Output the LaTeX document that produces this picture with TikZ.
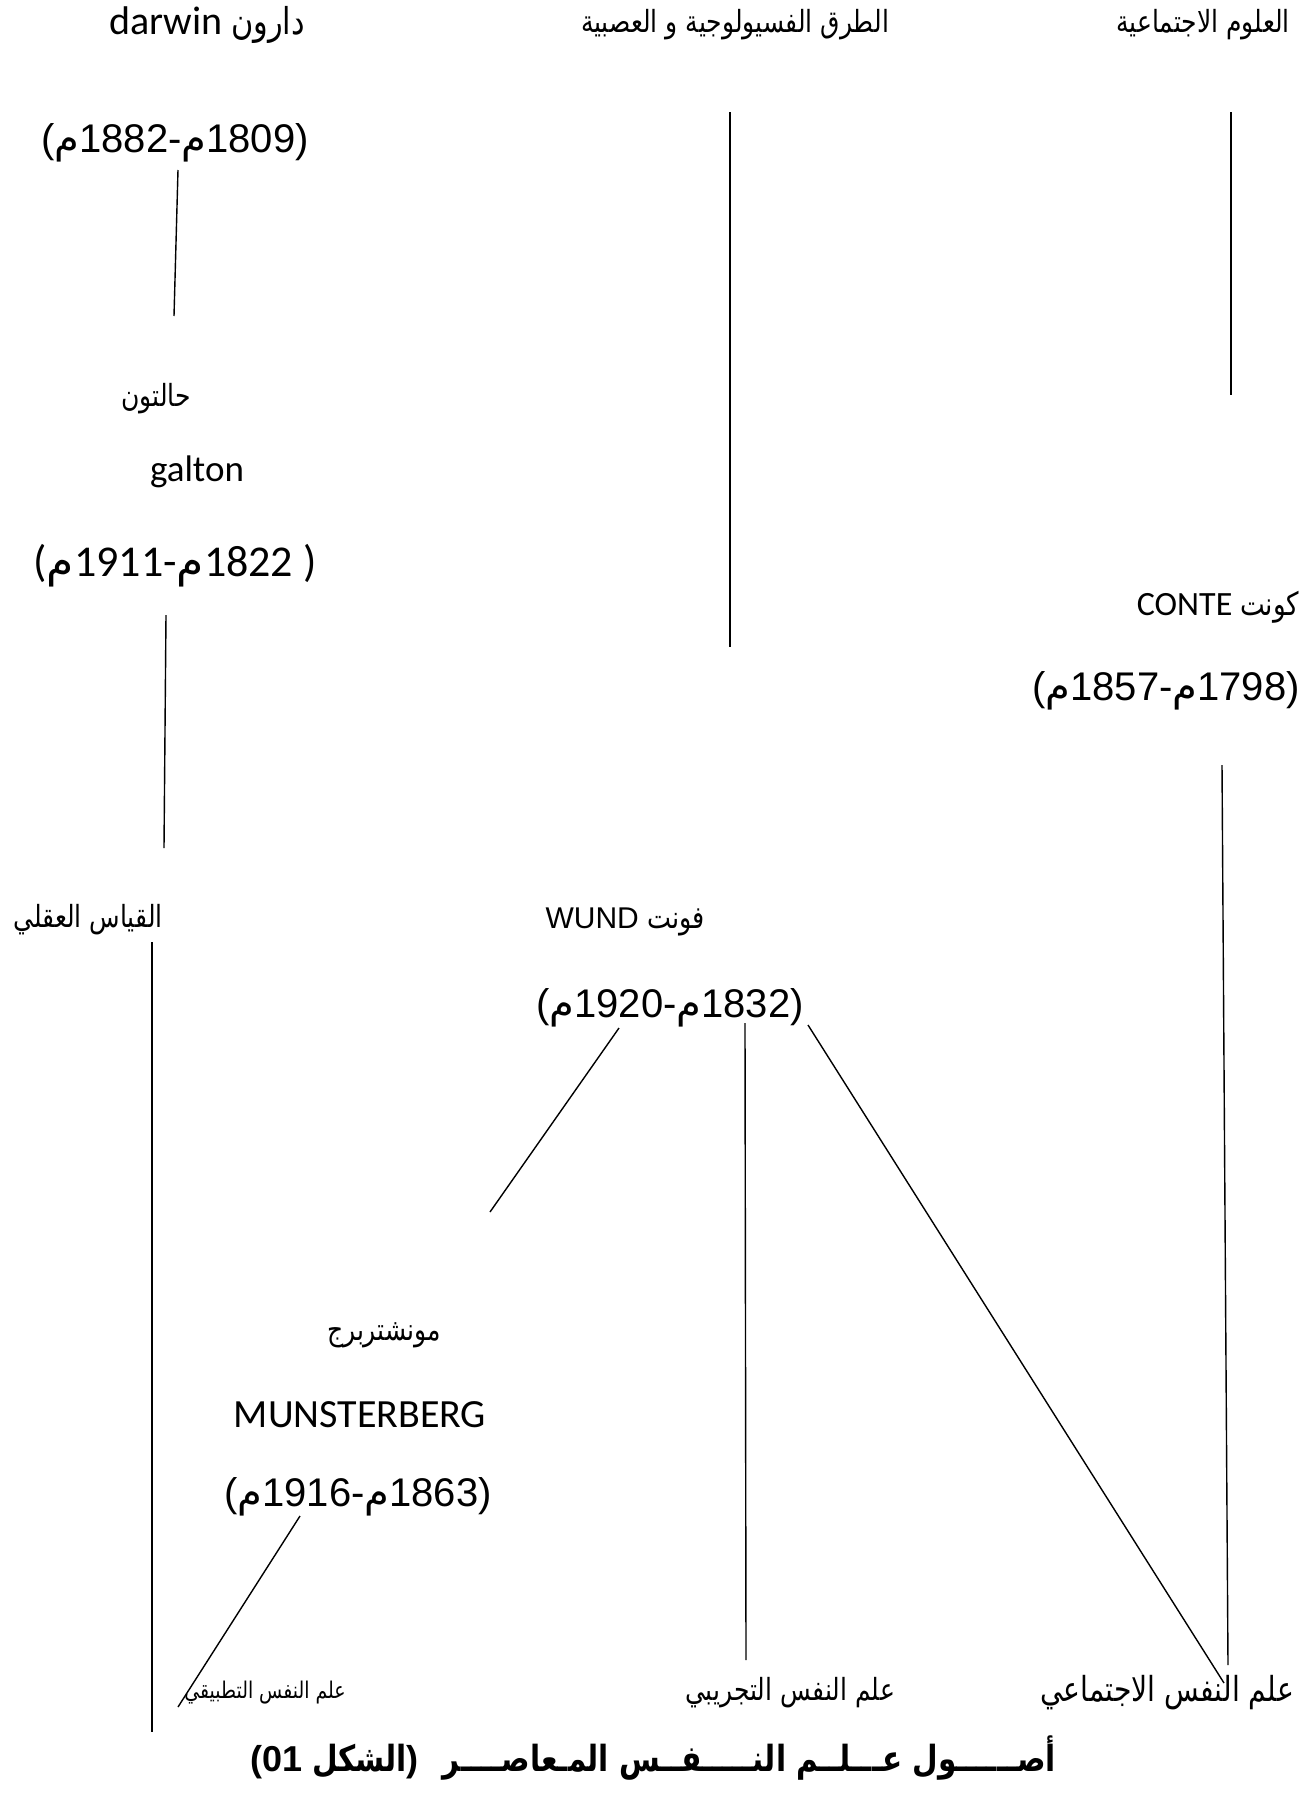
\documentclass[tikz,border=0pt]{standalone}
\usepackage{fontspec}
\setmainfont{Liberation Sans}
\newfontfamily\arfont[Script=Arabic]{DejaVu Sans}
\newfontfamily\calfont{Carlito}
\TeXXeTstate=1
\newcommand\AR[1]{\scalebox{0.82}[1]{\arfont\beginR #1\endR}}
\newcommand\FSZ[1]{\fontsize{#1}{#1}\selectfont}
\newcommand\MIM{{\arfont م}}
\begin{document}
\begin{tikzpicture}[x=1pt,y=-1pt,
  every node/.style={inner sep=0pt,outer sep=0pt,anchor=center},
  link/.style={draw=black,line width=1.4pt},
  datetext/.style={font=\FSZ{40}},
  nametext/.style={font=\FSZ{37}\calfont},
  arlabel/.style={font=\FSZ{30.5}\arfont},
  bottomlabel/.style={font=\FSZ{31}\arfont}]
\fill[white] (0,0) rectangle (1307,1796);
\useasboundingbox (0,0) rectangle (1307,1796);

% top row
\node[nametext,font=\FSZ{40}\calfont] (darwin) at (207,25) {darwin {\FSZ{37}\AR{دارون}}};
\node[arlabel] (physio) at (735,25) {\AR{الطرق الفسيولوجية و العصبية}};
\node[arlabel] (social) at (1203,25) {\AR{العلوم الاجتماعية}};

% darwin branch
\node[datetext] (darwinD) at (175,143) {(\MIM1882-\MIM1809)};
\coordinate (d1) at (178,170);
\coordinate (d2) at (174,316);
\draw[link] (d1) -- (d2);

\node[arlabel] (galtonA) at (156,399) {\AR{حالتون}};
\node[nametext] (galton) at (197,472) {galton};
\node[datetext,font=\FSZ{44}\calfont] (galtonD) at (175,566) {(\MIM1911-\MIM1822 )};
\coordinate (g1) at (166,615);
\coordinate (g2) at (164,848);
\draw[link] (g1) -- (g2);

% physiological line
\coordinate (p1) at (730,112);
\coordinate (p2) at (730,647);
\draw[link] (p1) -- (p2);

% social line
\coordinate (s1) at (1231,112);
\coordinate (s2) at (1231,395);
\draw[link] (s1) -- (s2);

% conte
\node[nametext,font=\FSZ{34}\calfont] (conte) at (1218,607) {CONTE {\FSZ{32}\AR{كونت}}};
\node[datetext] (conteD) at (1166,691) {(\MIM1857-\MIM1798)};
\coordinate (c1) at (1222,765);
\coordinate (c2) at (1228,1665);
\draw[link] (c1) -- (c2);

% mental measurement
\node[arlabel] (qiyas) at (88,920) {\AR{القياس العقلي}};
\coordinate (q1) at (152,942);
\coordinate (q2) at (152,1732);
\draw[link] (q1) -- (q2);

% wundt
\node[font=\FSZ{30}] (wund) at (625,922) {WUND {\FSZ{31}\AR{فونت}}};
\node[datetext] (wundD) at (670,1008) {(\MIM1920-\MIM1832)};
\coordinate (w1) at (619,1028);
\coordinate (w2) at (490,1212);
\draw[link] (w1) -- (w2);
\coordinate (w3) at (745,1023);
\coordinate (w4) at (746,1660);
\draw[link] (w3) -- (w4);
\coordinate (w5) at (808,1025);
\coordinate (w6) at (1224,1683);
\draw[link] (w5) -- (w6);

% munsterberg
\node[arlabel] (munA) at (384,1335) {\AR{مونشتربرج}};
\node[nametext,font=\FSZ{40}\calfont] (mun) at (360,1415) {MUNSTERBERG};
\node[datetext] (munD) at (358,1497) {(\MIM1916-\MIM1863)};
\coordinate (m1) at (300,1516);
\coordinate (m2) at (178,1707);
\draw[link] (m1) -- (m2);

% bottom labels
\node[bottomlabel,font=\FSZ{23}\arfont] (applied) at (265,1693) {\AR{علم النفس التطبيقي}};
\node[bottomlabel,font=\FSZ{30.5}\arfont] (exper) at (790,1693) {\AR{علم النفس التجريبي}};
\node[bottomlabel,font=\FSZ{34.5}\arfont,anchor=east] (socpsy) at (1294,1693) {\AR{علم النفس الاجتماعي}};

% caption
\node[font=\FSZ{36}\bfseries] (caption) at (653,1758) {(01 \AR{الشكل})\hspace{24pt}\AR{أصــــــول عـــلــم النـــــفــس المـعاصــــر}};
\end{tikzpicture}
\end{document}
